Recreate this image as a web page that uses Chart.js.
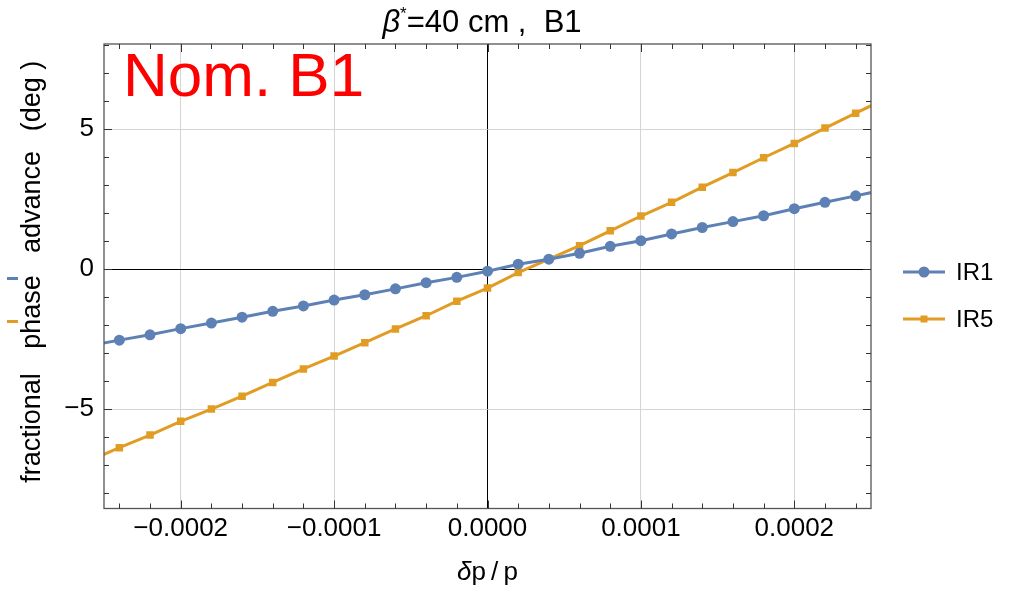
<!DOCTYPE html>
<html><head><meta charset="utf-8">
<script src="https://cdn.jsdelivr.net/npm/chart.js@4"></script>
<style>html,body{margin:0;padding:0;background:#fff;overflow:hidden}#wrap{width:1009px;height:599px;position:relative}canvas{display:block}</style>
</head><body><div id="wrap"><canvas id="c" width="1009" height="599" style="width:1009px;height:599px"></canvas></div>
<script>
// ---- data ----
const dpp = [-0.00026, -0.00024, -0.00022, -0.0002, -0.00018, -0.00016, -0.00014, -0.00012, -0.0001, -0.00008, -0.00006, -0.00004, -0.00002, 0,
             0.00002, 0.00004, 0.00006, 0.00008, 0.0001, 0.00012, 0.00014, 0.00016, 0.00018, 0.0002, 0.00022, 0.00024, 0.00026];
const ir1 = [-2.74, -2.53, -2.34, -2.12, -1.92, -1.71, -1.50, -1.31, -1.10, -0.91, -0.70, -0.48, -0.29, -0.07,
             0.18, 0.36, 0.57, 0.82, 1.02, 1.26, 1.49, 1.70, 1.91, 2.16, 2.39, 2.62, 2.85];
const ir5 = [-6.84, -6.37, -5.92, -5.43, -4.99, -4.53, -4.04, -3.56, -3.10, -2.62, -2.13, -1.66, -1.14, -0.67,
             -0.12, 0.36, 0.84, 1.37, 1.90, 2.39, 2.93, 3.45, 3.98, 4.49, 5.04, 5.57, 6.10];
const seriesNames = ['IR1', 'IR5'];
const xTickValues = [-0.0002, -0.0001, 0, 0.0001, 0.0002];
const yTickValues = [-5, 0, 5];
const titleParts = ['β', '*', '=40 cm ,  B1'];
const xLabelParts = ['δ', 'p\u2009/\u2009p'];
const yLabelWords = ['fractional', 'phase', 'advance', '(deg )'];
const annotationText = 'Nom. B1';

const FONT = '"Liberation Sans", Arial, Helvetica, sans-serif';
const BLUE = 'rgb(94,129,181)';
const ORANGE = 'rgb(225,156,36)';

function fmtX(v) {
  if (Math.abs(v) < 1e-12) return '0.0000';
  return (v < 0 ? '\u2212' : '') + Math.abs(v).toFixed(4);
}
function fmtY(v) {
  if (v === 0) return '0';
  return (v < 0 ? '\u2212' : '') + Math.abs(v);
}

const decorPlugin = {
  id: 'decor',
  afterDatasetsDraw(chart) {
    const {ctx, chartArea: a, scales: {x, y}} = chart;
    ctx.save();
    ctx.strokeStyle = '#555';
    ctx.lineWidth = 1.3;
    ctx.strokeRect(a.left, a.top, a.right - a.left, a.bottom - a.top);
    ctx.strokeStyle = '#333';
    ctx.lineWidth = 1;
    ctx.beginPath();
    for (let k = -12; k <= 12; k++) {
      const px = Math.round(x.getPixelForValue(k * 0.00002)) + 0.5;
      const len = (k % 5 === 0) ? 8 : 5;
      ctx.moveTo(px, a.bottom); ctx.lineTo(px, a.bottom - len);
      ctx.moveTo(px, a.top); ctx.lineTo(px, a.top + len);
    }
    for (let k = -8; k <= 8; k++) {
      const py = Math.round(y.getPixelForValue(k)) + 0.5;
      const len = (k % 5 === 0) ? 8 : 5;
      ctx.moveTo(a.left, py); ctx.lineTo(a.left + len, py);
      ctx.moveTo(a.right, py); ctx.lineTo(a.right - len, py);
    }
    ctx.stroke();
    ctx.restore();
  },
  afterDraw(chart) {
    const {ctx, chartArea: a} = chart;
    ctx.save();
    ctx.fillStyle = '#000';
    ctx.textBaseline = 'alphabetic';
    // title
    ctx.font = 'italic 31px ' + FONT;
    const w0 = ctx.measureText(titleParts[0]).width;
    ctx.font = '17px ' + FONT;
    const w1 = ctx.measureText(titleParts[1]).width;
    ctx.font = '31px ' + FONT;
    const w2 = ctx.measureText(titleParts[2]).width;
    let tx = 482 - (w0 + w1 + w2) / 2;
    const tb = 32;
    ctx.font = 'italic 31px ' + FONT; ctx.fillText(titleParts[0], tx, tb); tx += w0;
    ctx.font = '17px ' + FONT; ctx.fillText(titleParts[1], tx, tb - 13); tx += w1;
    ctx.font = '31px ' + FONT; ctx.fillText(titleParts[2], tx, tb);

    // x label
    ctx.font = 'italic 26px ' + FONT;
    const d0 = ctx.measureText(xLabelParts[0]).width;
    ctx.font = '26px ' + FONT;
    const d1 = ctx.measureText(xLabelParts[1]).width;
    let xx = (a.left + a.right) / 2 - (d0 + d1) / 2;
    ctx.font = 'italic 26px ' + FONT; ctx.fillText(xLabelParts[0], xx, 580); xx += d0;
    ctx.font = '26px ' + FONT; ctx.fillText(xLabelParts[1], xx, 580);

    // y label words (rotated)
    const centers = [428, 312, 202, 96];
    ctx.font = '27px ' + FONT;
    ctx.textAlign = 'center';
    yLabelWords.forEach((w, i) => {
      ctx.save();
      ctx.translate(40, centers[i]);
      ctx.rotate(-Math.PI / 2);
      ctx.fillText(w, 0, 0);
      ctx.restore();
    });
    ctx.textAlign = 'left';
    ctx.fillStyle = BLUE; ctx.fillRect(7, 277, 11, 3);
    ctx.fillStyle = ORANGE; ctx.fillRect(7, 320, 11, 3);

    // annotation
    ctx.fillStyle = '#ff0000';
    ctx.font = '62px ' + FONT;
    ctx.fillText(annotationText, 123, 96);

    // legend
    const legY = [272, 319];
    chart.data.datasets.forEach((ds, i) => {
      const yy = legY[i];
      ctx.strokeStyle = ds.borderColor;
      ctx.lineWidth = 3;
      ctx.beginPath(); ctx.moveTo(903, yy); ctx.lineTo(945, yy); ctx.stroke();
      ctx.fillStyle = ds.borderColor;
      if (ds.pointStyle === 'circle') {
        ctx.beginPath(); ctx.arc(924, yy, 5.5, 0, Math.PI * 2); ctx.fill();
      } else {
        ctx.fillRect(920.5, yy - 3.5, 7, 7);
      }
      ctx.fillStyle = '#000';
      ctx.font = '24px ' + FONT;
      ctx.textBaseline = 'middle';
      ctx.fillText(ds.label, 956, yy + 1);
      ctx.textBaseline = 'alphabetic';
    });
    ctx.restore();
  }
};

const toPts = arr => dpp.map((v, i) => ({x: v, y: arr[i]}));

new Chart(document.getElementById('c'), {
  type: 'line',
  data: {
    datasets: [
      {label: seriesNames[0], data: toPts(ir1), borderColor: BLUE, backgroundColor: BLUE,
       borderWidth: 3, pointStyle: 'circle', pointRadius: 5.5, pointBorderWidth: 0, tension: 0},
      {label: seriesNames[1], data: toPts(ir5), borderColor: ORANGE, backgroundColor: ORANGE,
       borderWidth: 3, pointStyle: 'rect', pointRadius: 5.3, pointBorderWidth: 0, tension: 0}
    ]
  },
  options: {
    responsive: false,
    maintainAspectRatio: false,
    animation: false,
    devicePixelRatio: 1,
    layout: {padding: {left: 0, right: 138, top: 44, bottom: 0}},
    plugins: {legend: {display: false}, title: {display: false}, tooltip: {enabled: false}},
    scales: {
      x: {
        type: 'linear', min: -0.00025, max: 0.00025,
        afterBuildTicks: s => { s.ticks = xTickValues.map(v => ({value: v})); },
        afterFit: s => { s.height = 90.5; },
        ticks: {callback: v => fmtX(v), font: {family: FONT, size: 26}, color: '#000', padding: 5, autoSkip: false, maxRotation: 0},
        grid: {color: c => (c.tick && c.tick.value === 0) ? '#000' : '#d4d4d4', lineWidth: 1, drawTicks: false},
        border: {display: false}
      },
      y: {
        type: 'linear', min: -8.54, max: 8.04,
        afterBuildTicks: s => { s.ticks = yTickValues.map(v => ({value: v})); },
        afterFit: s => { s.width = 104; },
        ticks: {callback: v => fmtY(v), font: {family: FONT, size: 26}, color: '#000', padding: 10},
        grid: {color: c => (c.tick && c.tick.value === 0) ? '#000' : '#d4d4d4', lineWidth: 1, drawTicks: false},
        border: {display: false}
      }
    }
  },
  plugins: [decorPlugin]
});
</script>
</body></html>
